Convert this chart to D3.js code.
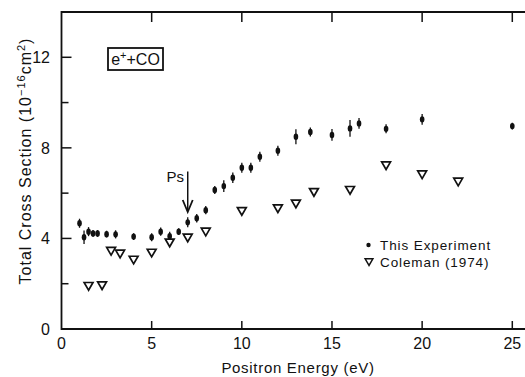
<!DOCTYPE html>
<html>
<head>
<meta charset="utf-8">
<script src="https://cdn.jsdelivr.net/npm/d3@7"></script>
<style>
  body { margin: 0; background: #fff; }
  svg text { font-family: "Liberation Sans", Arial, sans-serif; fill: #111; }
</style>
</head>
<body>
<div id="chart"></div>
<script>
// this experiment
const expEnergy = [1.0, 1.25, 1.5, 1.75, 2.0, 2.5, 3.0, 4.0, 5.0, 5.5, 6.0, 6.5, 7.0, 7.5, 8.0, 8.5, 9.0, 9.5, 10.0, 10.5, 11.0, 12.0, 13.0, 13.8, 15.0, 16.0, 16.5, 18.0, 20.0, 25.0];
const expSigma = [4.67, 4.05, 4.3, 4.22, 4.22, 4.19, 4.18, 4.08, 4.05, 4.3, 4.1, 4.3, 4.71, 4.89, 5.25, 6.14, 6.31, 6.68, 7.12, 7.12, 7.61, 7.87, 8.49, 8.7, 8.57, 8.86, 9.08, 8.84, 9.26, 8.96];
const expErr = [0.2, 0.3, 0.2, 0.15, 0.15, 0.15, 0.18, 0.15, 0.18, 0.18, 0.2, 0.15, 0.22, 0.19, 0.18, 0.18, 0.26, 0.23, 0.22, 0.22, 0.22, 0.22, 0.33, 0.2, 0.26, 0.37, 0.24, 0.2, 0.24, 0.15];

// Coleman (1974)
const colEnergy = [1.5, 2.25, 2.75, 3.25, 4.0, 5.0, 6.0, 7.0, 8.0, 10.0, 12.0, 13.0, 14.0, 16.0, 18.0, 20.0, 22.0];
const colSigma = [1.94, 1.97, 3.49, 3.37, 3.1, 3.41, 3.86, 4.08, 4.34, 5.25, 5.37, 5.58, 6.09, 6.18, 7.27, 6.87, 6.55];

const xTicks = [0, 5, 10, 15, 20, 25];
const yTicks = [0, 4, 8, 12];
const yMinor = [2, 6, 10];
const legendLabels = ["This Experiment", "Coleman (1974)"];

const W = 525, H = 377;
const svg = d3.select("#chart").append("svg")
  .attr("width", W).attr("height", H);

const x = d3.scaleLinear().domain([0, 25]).range([61.5, 512.3]);
const y = d3.scaleLinear().domain([0, 14]).range([329, 12]);

// frame (right side runs off the page)
const frame = svg.append("g").attr("stroke", "#111").attr("stroke-width", 1.8).attr("fill", "none");
frame.append("path").attr("d", `M${W + 2},${y(14)} H${x(0)} V${y(0)} H${W + 2}`);

// ticks
const tk = svg.append("g").attr("stroke", "#111").attr("stroke-width", 1.5);
xTicks.filter(d => d > 0).forEach(d => {
  tk.append("line").attr("x1", x(d)).attr("x2", x(d)).attr("y1", y(0)).attr("y2", y(0) - 8);
  tk.append("line").attr("x1", x(d)).attr("x2", x(d)).attr("y1", y(14)).attr("y2", y(14) + 10);
});
yTicks.filter(d => d > 0).forEach(d => {
  tk.append("line").attr("x1", x(0)).attr("x2", x(0) + 10).attr("y1", y(d)).attr("y2", y(d));
});
yMinor.forEach(d => {
  tk.append("line").attr("x1", x(0)).attr("x2", x(0) + 7).attr("y1", y(d)).attr("y2", y(d));
});

// tick labels
svg.append("g").selectAll("text").data(xTicks).join("text")
  .attr("x", d => x(d)).attr("y", 349)
  .attr("text-anchor", "middle").attr("font-size", 16)
  .text(d => d);
svg.append("g").selectAll("text").data(yTicks).join("text")
  .attr("x", 50).attr("y", d => y(d) + 6)
  .attr("text-anchor", "end").attr("font-size", 16)
  .text(d => d);

// axis titles
svg.append("text")
  .attr("x", 298).attr("y", 373)
  .attr("text-anchor", "middle").attr("font-size", 15)
  .attr("letter-spacing", 0.7)
  .text("Positron Energy (eV)");

const yt = svg.append("text")
  .attr("transform", `translate(31,${161}) rotate(-90)`)
  .attr("text-anchor", "middle").attr("font-size", 16)
  .attr("letter-spacing", 1.0);
yt.append("tspan").text("Total Cross Section  (10");
yt.append("tspan").attr("dy", -6).attr("font-size", 11).text("−16");
yt.append("tspan").attr("dy", 6).text("cm");
yt.append("tspan").attr("dy", -6).attr("font-size", 11).text("2");
yt.append("tspan").attr("dy", 6).text(")");

// label box
svg.append("rect").attr("x", 108).attr("y", 48).attr("width", 55).attr("height", 22)
  .attr("fill", "none").attr("stroke", "#111").attr("stroke-width", 1.8);
const lb = svg.append("text").attr("x", 135.5).attr("y", 65).attr("text-anchor", "middle").attr("font-size", 16);
lb.append("tspan").text("e");
lb.append("tspan").attr("dy", -6).attr("font-size", 11).text("+");
lb.append("tspan").attr("dy", 6).text("+CO");

// experiment points with error bars
const expData = expEnergy.map((e, i) => ({ e, s: expSigma[i], err: expErr[i] }));
const ep = svg.append("g");
ep.selectAll("line").data(expData).join("line")
  .attr("x1", d => x(d.e)).attr("x2", d => x(d.e))
  .attr("y1", d => y(d.s - d.err)).attr("y2", d => y(d.s + d.err))
  .attr("stroke", "#111").attr("stroke-width", 1.3);
ep.selectAll("ellipse").data(expData).join("ellipse")
  .attr("cx", d => x(d.e)).attr("cy", d => y(d.s))
  .attr("rx", 2.3).attr("ry", 3.2).attr("fill", "#111");

// Coleman triangles
const tri = d3.symbol().type(d3.symbolTriangle).size(34);
svg.append("g").selectAll("path").data(colEnergy.map((e, i) => ({ e, s: colSigma[i] }))).join("path")
  .attr("d", tri)
  .attr("transform", d => `translate(${x(d.e)},${y(d.s)}) rotate(180)`)
  .attr("fill", "#fff").attr("stroke", "#111").attr("stroke-width", 1.7);

// Ps arrow
const ax = x(7.0);
svg.append("line").attr("x1", ax).attr("x2", ax).attr("y1", 171.5).attr("y2", 211)
  .attr("stroke", "#111").attr("stroke-width", 1.5);
svg.append("path").attr("d", `M${ax - 5},${200} L${ax},${212} L${ax + 5},${200}`)
  .attr("fill", "none").attr("stroke", "#111").attr("stroke-width", 1.8);
svg.append("text").attr("x", 184).attr("y", 182).attr("text-anchor", "end").attr("font-size", 15).text("Ps");

// legend
const lg = svg.append("g");
lg.append("circle").attr("cx", 368.5).attr("cy", 245).attr("r", 2.2).attr("fill", "#111");
lg.append("path").attr("d", d3.symbol().type(d3.symbolTriangle).size(26))
  .attr("transform", "translate(369,261) rotate(180)")
  .attr("fill", "#fff").attr("stroke", "#111").attr("stroke-width", 1.5);
lg.selectAll("text").data(legendLabels).join("text")
  .attr("x", 380).attr("y", (d, i) => 250 + i * 17)
  .attr("font-size", 13.5).attr("letter-spacing", 0.9)
  .text(d => d);
</script>
</body>
</html>
